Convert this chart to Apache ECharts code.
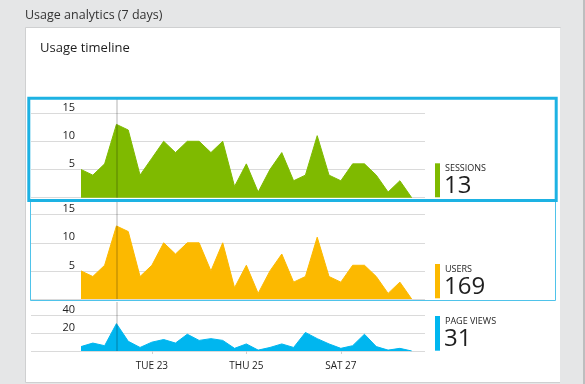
<!DOCTYPE html>
<html>
<head>
<meta charset="utf-8">
<script src="https://cdn.jsdelivr.net/npm/echarts@6/dist/echarts.min.js"></script>
<style>
html,body{margin:0;padding:0;background:#e5e6e7;}
#c{width:585px;height:384px;}
</style>
</head>
<body>
<div id="c"></div>
<script>
// 29 samples, 6 hours apart (index 0..28)
const sessions  = [5,4,6,13,12,4,7,10,8,10,10,8,10,2,6,1,5,8,3,4,11,4,3,6,6,4,1,3,0];
const users     = [5,4,6,13,12,4,6,10,8,10,10,5,10,2,6,1,5,8,3,4,11,4,3,6,6,4,1,3,0];
const pageViews = [5,9,6,31,11,4,10,13,9,19,12,14,12,3,8,1,4,8,4,21,14,8,3,6,19,5,1,3,0];
const tickPositions = [6,14,22];
const tickLabels = ['TUE 23','THU 25','SAT 27'];
const hoverIndex = 3;
const metricNames = ['SESSIONS','USERS','PAGE VIEWS'];
const metricValues = ['13','169','31'];
const colors = ['#7fba00','#fcb900','#00b6ef'];

const FONT = '"Open Sans", "Noto Sans", sans-serif';
const chart = echarts.init(document.getElementById('c'), null, {renderer:'canvas'});

const series = [sessions, users, pageViews];
const gridDefs = [
  {left:31, width:394, top:99,  height:98.7},
  {left:31, width:394, top:202, height:97},
  {left:31, width:394, top:302, height:49}
];
const yDefs = [
  {max:17.5, interval:5},
  {max:17.26, interval:5},
  {max:55.5, interval:20}
];
const xMin = -4.234, xMax = 29.126;

const xAxes = gridDefs.map((g,i)=>({
  type:'value', gridIndex:i, min:xMin, max:xMax,
  axisLine:{show:false},
  splitLine:{show:false},
  axisTick: i===2 ? {show:true, customValues:tickPositions, length:3, lineStyle:{color:'#d0d0d0'}} : {show:false},
  axisLabel: i===2 ? {show:true, customValues:tickPositions, margin:10,
     formatter:(v)=>tickLabels[tickPositions.indexOf(Math.round(v))] || '',
     color:'#222', fontSize:10, fontFamily:FONT} : {show:false}
}));

const yAxes = gridDefs.map((g,i)=>({
  type:'value', gridIndex:i, min:0, max:yDefs[i].max, interval:yDefs[i].interval,
  axisLine:{show:false}, axisTick:{show:false},
  splitLine:{show:true, showMinLine:true, showMaxLine:false, lineStyle:{color:'#dadada', width:1}},
  axisLabel:{show:true, showMinLabel:false, showMaxLabel:false, margin:-44, align:'right',
    verticalAlign:'bottom', padding:[0,0,0,0], color:'#222', fontSize:11, fontFamily:FONT}
}));

const seriesOpts = series.map((d,i)=>({
  type:'line', xAxisIndex:i, yAxisIndex:i,
  data:d.map((v,k)=>[k,v]),
  symbol:'none', smooth:false, silent:true,
  lineStyle:{color:colors[i], width:1},
  areaStyle:{color:colors[i], opacity:1},
  markLine:{silent:true, symbol:'none', label:{show:false},
    lineStyle:{color:'rgba(0,0,0,0.2)', type:'solid', width:1.5},
    data:[{xAxis:hoverIndex}]},
  z:2
}));

const graphics = [
  {type:'rect', shape:{x:25.5, y:27.5, width:535, height:355}, style:{fill:'#ffffff', stroke:'#cfd0d1', lineWidth:1}, z:-10},
  {type:'rect', shape:{x:560, y:28, width:2, height:356}, style:{fill:'#e5e6e7'}, z:-9},
  {type:'rect', shape:{x:583, y:0, width:2, height:384}, style:{fill:'#bdbebf'}, z:-9},
  {type:'text', x:25, y:15, style:{text:'Usage analytics (7 days)', fill:'#333', font:'12.5px '+FONT, verticalAlign:'middle'}},
  {type:'text', x:40, y:48, style:{text:'Usage timeline', fill:'#1e1e1e', font:'13px '+FONT, verticalAlign:'middle'}},
  {type:'rect', shape:{x:30.5, y:200.5, width:525, height:100}, style:{fill:'none', stroke:'#4fc3ea', lineWidth:1}, z:5},
  {type:'rect', shape:{x:28.8, y:98.2, width:527.4, height:102.3}, style:{fill:'none', stroke:'#1db2e3', lineWidth:3}, z:6}
];
const legendY = [[163.3,197.3,168.3,186],[264,298.3,269.3,287],[316,350.7,321.7,339]];
legendY.forEach((ly,i)=>{
  graphics.push({type:'rect', shape:{x:435, y:ly[0], width:5, height:ly[1]-ly[0]}, style:{fill:colors[i]}, z:4});
  graphics.push({type:'text', x:445, y:ly[2], style:{text:metricNames[i], fill:'#1e1e1e', font:'9px '+FONT, verticalAlign:'middle'}, z:4});
  graphics.push({type:'text', x:444, y:ly[3], style:{text:metricValues[i], fill:'#1e1e1e', font:'24px '+FONT, verticalAlign:'middle'}, z:4});
});

chart.setOption({
  animation:false,
  backgroundColor:'#e5e6e7',
  grid:gridDefs.map(g=>Object.assign({containLabel:false}, g)),
  xAxis:xAxes, yAxis:yAxes, series:seriesOpts,
  graphic:graphics
});
</script>
</body>
</html>
